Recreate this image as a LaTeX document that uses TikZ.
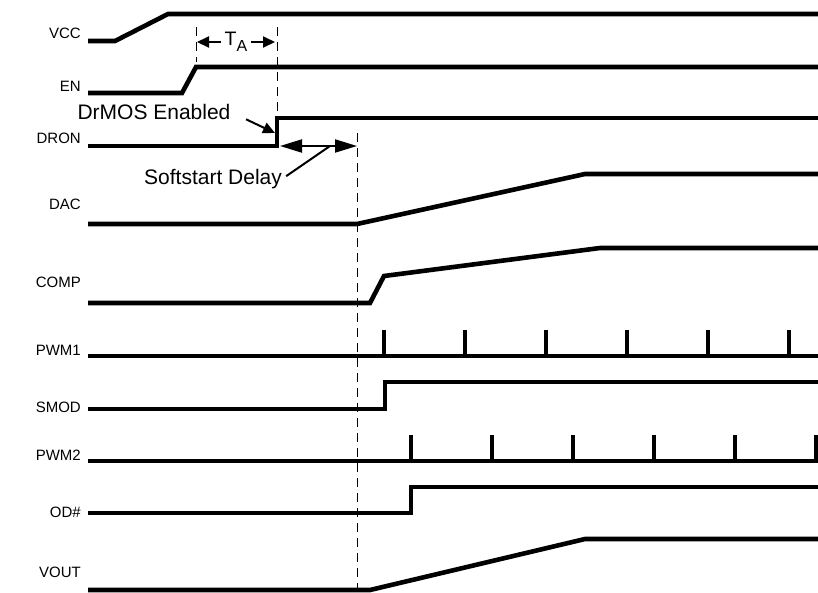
\documentclass[tikz,border=0pt]{standalone}
\usepackage{fontspec}
\setmainfont{Liberation Sans}
\usetikzlibrary{arrows.meta, positioning}
\tikzstyle{wave} = [line width=4.6pt]
\tikzstyle{pulse} = [line width=4.8pt]
\tikzstyle{signame} = [anchor=east, inner sep=0pt, font=\fontsize{15}{18}\selectfont]
\tikzstyle{note} = [inner sep=0pt, font=\fontsize{21}{24}\selectfont]
\tikzstyle{guide} = [line width=0.9pt, dash pattern=on 9pt off 6pt]
\tikzstyle{arrow} = [line width=2pt, -{Triangle[length=12pt,width=11pt]}]
\tikzstyle{bigarrow} = [line width=2pt, {Triangle[length=22pt,width=13pt]}-{Triangle[length=22pt,width=13pt]}]

\begin{document}
\begin{tikzpicture}[x=1pt, y=-1pt]
        \useasboundingbox (0,0) rectangle (818,592);

        % Signal names
        \node (vcc) [signame] at (81,33) {VCC};
        \node (en) [signame] at (81,86) {EN};
        \node (dron) [signame] at (81,138) {DRON};
        \node (dac) [signame] at (81,204) {DAC};
        \node (comp) [signame] at (81,282) {COMP};
        \node (pwm1) [signame] at (81,350) {PWM1};
        \node (smod) [signame] at (81,407) {SMOD};
        \node (pwm2) [signame] at (81,455) {PWM2};
        \node (od) [signame] at (81,512) {OD\#};
        \node (vout) [signame] at (81,572) {VOUT};

        % Waveforms
        \draw [wave] (88,41) -- (115,41) -- (168,14) -- (818,14);
        \draw [wave] (88,93) -- (182,93) -- (196,67) -- (818,67);
        \draw [wave] (88,146) -- (277,146) -- (277,118) -- (818,118);
        \draw [wave] (88,224) -- (357,224) -- (585,174) -- (818,174);
        \draw [wave] (88,303) -- (370,303) -- (384,276) -- (600,248) -- (818,248);
        \draw [wave] (88,356) -- (818,356);
        \foreach \x in {384,465,...,789}
            \draw [pulse] (\x,356) -- (\x,330);
        \draw [wave] (88,409) -- (385,409) -- (385,382) -- (818,382);
        \draw [wave] (88,461) -- (818,461);
        \foreach \x in {411,492,...,816}
            \draw [pulse] (\x,461) -- (\x,435);
        \draw [wave] (88,513) -- (411,513) -- (411,487) -- (818,487);
        \draw [wave] (88,590) -- (370,590) -- (585,539) -- (818,539);

        % Guides
        \draw [guide] (196,27) -- (196,62);
        \draw [guide] (277,27) -- (277,116);
        \draw [guide] (357,133) -- (357,588);

        % Annotations
        \node (ta) [note, font=\fontsize{19.5}{22}\selectfont, inner xsep=4pt] at (236,42) {T\raisebox{-6pt}{\fontsize{16}{16}\selectfont A}};
        \node (enabled) [note] at (154,112) {DrMOS Enabled};
        \node (delay) [note] at (213,179) {Softstart Delay};
        \coordinate (taL) at (197,42);
        \coordinate (taR) at (275,42);
        \coordinate (enT) at (275,133);
        \coordinate (ssL) at (280,146);
        \coordinate (ssR) at (357,146);
        \coordinate (ssM) at (330,146);

        % Arrows
        \draw [arrow] (ta.west) -- (taL);
        \draw [arrow] (ta.east) -- (taR);
        \draw [arrow, shorten <=17pt] (enabled.east) -- (enT);
        \draw [bigarrow] (ssL) -- (ssR);
        \draw [line width=2pt, shorten <=5pt] (delay.east) -- (ssM);
    \end{tikzpicture}
\end{document}
